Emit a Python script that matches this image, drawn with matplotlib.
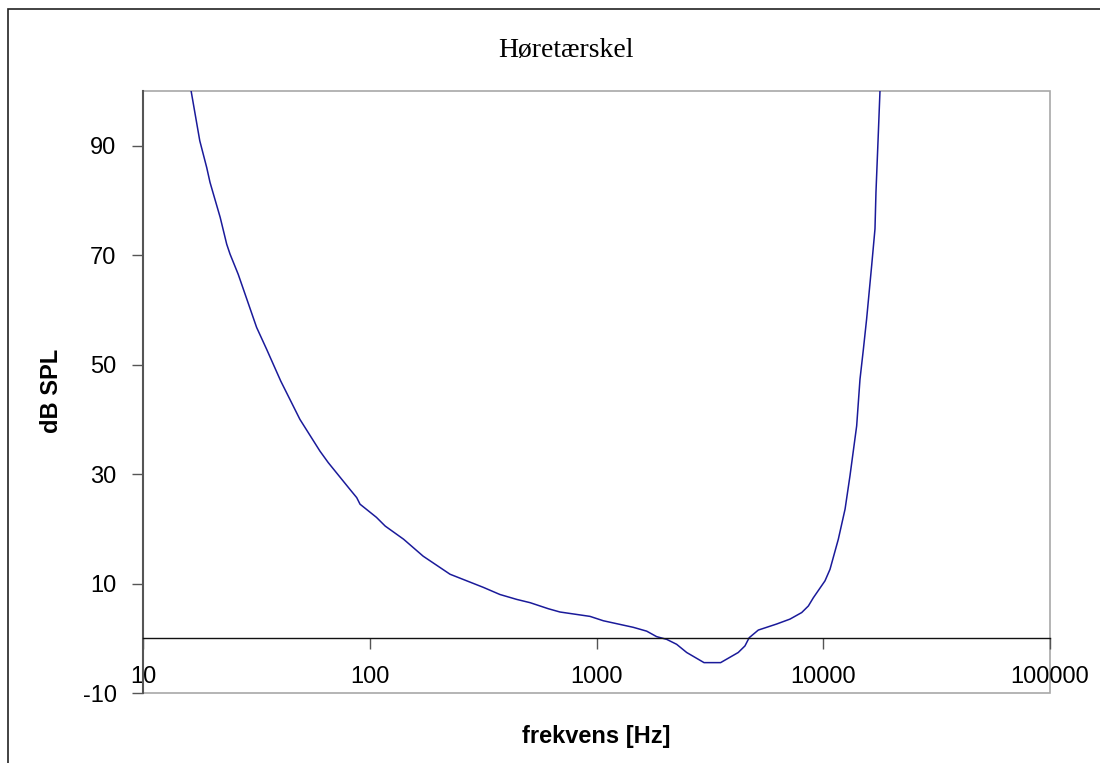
import matplotlib
matplotlib.use('Agg')
import matplotlib.pyplot as plt
from matplotlib.patches import Rectangle

plt.rcParams['axes.unicode_minus'] = False

# hearing threshold curve
frekvens = [16.3, 17.8, 19.1, 19.75, 21.9, 23.4, 24.2, 26.3, 31.7, 35.1,
            40.5, 49.2, 60.3, 65.6, 81.8, 87.6, 90.6, 107, 117, 141,
            172, 226, 317, 375, 445, 510, 613, 690, 936, 1072,
            1453, 1665, 1841, 2040, 2256, 2499, 2980, 3527, 4217, 4515,
            4713, 5171, 6226, 7131, 8035, 8597, 9041, 10180, 10710, 11654,
            12480, 13120, 14040, 14520, 15030, 15530, 16350, 16910, 17080, 17500,
            17790]
db_spl = [100, 90.9, 86.0, 83.3, 76.9, 72.0, 70.2, 66.5, 56.8, 52.8,
          47.0, 40.0, 34.2, 32.1, 27.2, 25.7, 24.5, 22.1, 20.5, 18.1,
          15.0, 11.7, 9.3, 8.0, 7.1, 6.5, 5.4, 4.8, 4.0, 3.2,
          2.0, 1.3, 0.3, -0.2, -1.1, -2.6, -4.45, -4.45, -2.6, -1.4,
          0.1, 1.5, 2.6, 3.5, 4.7, 5.9, 7.4, 10.5, 12.6, 18.1,
          23.6, 29.7, 38.8, 47.3, 52.8, 58.3, 68.1, 74.8, 81.5, 92.4,
          100]

x_ticks = [10, 100, 1000, 10000, 100000]
x_labels = ['10', '100', '1000', '10000', '100000']
y_ticks = [-10, 10, 30, 50, 70, 90]

W, H = 1100, 763
fig = plt.figure(figsize=(W / 100, H / 100), dpi=100)
fig.patch.set_facecolor('white')

# outer chart border (only left/top visible in the frame)
fig.patches.append(Rectangle((8 / W, -0.5), 2.0, 1.5 - 9 / H, transform=fig.transFigure,
                             fill=False, edgecolor='#222222', linewidth=1.2))

ax = fig.add_axes([143 / W, 1 - 693 / H, (1050 - 143) / W, (693 - 91) / H])
ax.plot(frekvens, db_spl, color='#1a1a9a', linewidth=1.1)

ax.set_xscale('log')
ax.set_xlim(10, 100000)
ax.set_ylim(-10, 100)

# gray plot frame
ax.add_patch(Rectangle((0, 0), 1, 1, transform=ax.transAxes, fill=False,
                       edgecolor='#a8a8a8', linewidth=1.2, clip_on=False, zorder=0.5))

for s in ['top', 'right']:
    ax.spines[s].set_visible(False)
ax.spines['left'].set_color('#555555')
ax.spines['left'].set_linewidth(1.5)
ax.spines['bottom'].set_position(('data', 0))
ax.spines['bottom'].set_color('#111111')
ax.spines['bottom'].set_linewidth(1.0)

ax.set_xticks(x_ticks)
ax.set_xticklabels(x_labels)
ax.minorticks_off()
ax.tick_params(axis='x', direction='out', length=8, width=1, color='#555555',
               pad=12, labelsize=17)
ax.set_yticks(y_ticks)
ax.tick_params(axis='y', direction='out', length=8, width=1, color='#555555',
               pad=11, labelsize=17)
for lab in ax.get_xticklabels() + ax.get_yticklabels():
    lab.set_fontfamily('Liberation Sans')

fig.text(566 / W, 1 - 50 / H, 'Høretærskel', ha='center', va='center',
         fontsize=20, family='Liberation Serif')
fig.text(596 / W, 1 - 736 / H, 'frekvens [Hz]', ha='center', va='center',
         fontsize=17, fontweight='bold', family='Liberation Sans')
fig.text(52 / W, 1 - 391 / H, 'dB SPL', ha='center', va='center', rotation=90,
         fontsize=17, fontweight='bold', family='Liberation Sans')

fig.savefig('out.png', dpi=100)
